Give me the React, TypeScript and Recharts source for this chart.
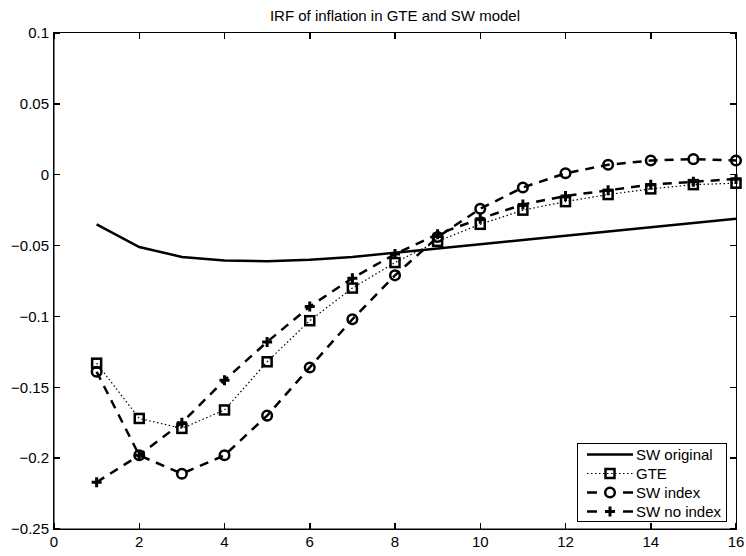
import { Line, LineChart, XAxis, YAxis } from 'recharts';

const periods = [1, 2, 3, 4, 5, 6, 7, 8, 9, 10, 11, 12, 13, 14, 15, 16];
const swOriginal = [-0.035, -0.051, -0.058, -0.0605, -0.061, -0.06, -0.058, -0.055, -0.052, -0.049, -0.046, -0.043, -0.04, -0.037, -0.034, -0.031];
const gte = [-0.133, -0.172, -0.179, -0.166, -0.132, -0.103, -0.08, -0.062, -0.047, -0.035, -0.025, -0.019, -0.014, -0.01, -0.007, -0.006];
const swIndex = [-0.139, -0.198, -0.211, -0.198, -0.17, -0.136, -0.102, -0.071, -0.044, -0.024, -0.009, 0.001, 0.007, 0.01, 0.011, 0.01];
const swNoIndex = [-0.217, -0.198, -0.175, -0.145, -0.118, -0.093, -0.073, -0.056, -0.042, -0.031, -0.021, -0.015, -0.011, -0.007, -0.005, -0.003];

const xTicks = [0, 2, 4, 6, 8, 10, 12, 14, 16];
const yTicks = [-0.25, -0.2, -0.15, -0.1, -0.05, 0, 0.05, 0.1];
const seriesNames = ['SW original', 'GTE', 'SW index', 'SW no index'];

const data = periods.map((t, i) => ({
  t,
  swOriginal: swOriginal[i],
  gte: gte[i],
  swIndex: swIndex[i],
  swNoIndex: swNoIndex[i],
}));

const FONT = '"Liberation Sans", Arial, sans-serif';
const DASH = '9 7';
const tickFont = { fontSize: 15, fill: '#000', fontFamily: FONT };

// plot box (chart margins + axis sizes below)
const BOX = { left: 54, top: 33, width: 682, height: 496 };
const X_DOMAIN = [0, 16];
const Y_DOMAIN = [-0.25, 0.1];

const fmtY = (v: number) => {
  const s = String(Math.abs(v));
  return v < 0 ? '\u2212' + s : s;
};

const square = (cx: number, cy: number, key?: any) => (
  <rect key={key} x={cx - 4.5} y={cy - 4.5} width={9} height={9} fill="none" stroke="#000" strokeWidth={2.5} />
);
const circle = (cx: number, cy: number, key?: any) => (
  <circle key={key} cx={cx} cy={cy} r={4.8} fill="none" stroke="#000" strokeWidth={2.5} />
);
const plus = (cx: number, cy: number, key?: any) => (
  <path key={key} d={`M${cx - 5},${cy}H${cx + 5}M${cx},${cy - 5}V${cy + 5}`} stroke="#000" strokeWidth={3} fill="none" />
);

const renderSquare = (p: any) => square(p.cx, p.cy, `sq-${p.index}`);
const renderCircle = (p: any) => circle(p.cx, p.cy, `ci-${p.index}`);
const renderPlus = (p: any) => plus(p.cx, p.cy, `pl-${p.index}`);

const legendSample = (i: number) => {
  if (i === 0) return <line x1={0} x2={46} y1={9.5} y2={9.5} stroke="#000" strokeWidth={2.5} />;
  if (i === 1)
    return (
      <g>
        <line x1={0} x2={46} y1={9.5} y2={9.5} stroke="#000" strokeWidth={1.2} strokeDasharray="1.5 2.5" />
        {square(23, 9.5)}
      </g>
    );
  return (
    <g>
      <line x1={0} x2={10} y1={9.5} y2={9.5} stroke="#000" strokeWidth={2.5} />
      <line x1={36} x2={46} y1={9.5} y2={9.5} stroke="#000" strokeWidth={2.5} />
      {i === 2 ? circle(23, 9.5) : plus(23, 9.5)}
    </g>
  );
};

// matlab style box with inward ticks on all four sides
const AxesBox = () => {
  const sx = (v: number) => BOX.left + ((v - X_DOMAIN[0]) / (X_DOMAIN[1] - X_DOMAIN[0])) * BOX.width;
  const sy = (v: number) => BOX.top + ((Y_DOMAIN[1] - v) / (Y_DOMAIN[1] - Y_DOMAIN[0])) * BOX.height;
  const right = BOX.left + BOX.width;
  const bottom = BOX.top + BOX.height;
  return (
    <>
      <div
        style={{
          position: 'absolute',
          left: BOX.left - 1,
          top: BOX.top - 1,
          width: BOX.width,
          height: BOX.height,
          border: '1.5px solid #000',
          zIndex: 5,
          pointerEvents: 'none',
        }}
      />
      <svg
        width={746}
        height={556}
        shapeRendering="crispEdges"
        style={{ position: 'absolute', left: 0, top: 0, zIndex: 6, pointerEvents: 'none' }}
      >
        {xTicks.map((v) => (
          <g key={`x${v}`}>
            <line x1={sx(v)} x2={sx(v)} y1={BOX.top} y2={BOX.top + 6} stroke="#000" strokeWidth={1.5} />
            <line x1={sx(v)} x2={sx(v)} y1={bottom} y2={bottom - 6} stroke="#000" strokeWidth={1.5} />
          </g>
        ))}
        {yTicks.map((v) => (
          <g key={`y${v}`}>
            <line x1={BOX.left} x2={BOX.left + 6} y1={sy(v)} y2={sy(v)} stroke="#000" strokeWidth={1.5} />
            <line x1={right} x2={right - 6} y1={sy(v)} y2={sy(v)} stroke="#000" strokeWidth={1.5} />
          </g>
        ))}
      </svg>
    </>
  );
};

export default function App() {
  return (
    <div style={{ position: 'absolute', left: 0, top: 0, width: 746, height: 556, background: '#fff', fontFamily: FONT }}>
      <LineChart width={746} height={556} data={data} margin={{ top: BOX.top, right: 10, bottom: 0, left: 0 }}>
        <XAxis
          dataKey="t"
          type="number"
          domain={X_DOMAIN}
          ticks={xTicks}
          height={27}
          stroke="#000"
          tickLine={false}
          tickSize={3}
          tickMargin={4}
          tick={tickFont}
        />
        <YAxis
          type="number"
          domain={Y_DOMAIN}
          ticks={yTicks}
          width={BOX.left}
          stroke="#000"
          tickLine={false}
          tickSize={3}
          tickMargin={2}
          tick={tickFont}
          tickFormatter={fmtY}
        />
        <Line dataKey="swOriginal" name="SW original" stroke="#000" strokeWidth={2.5} dot={false} isAnimationActive={false} />
        <Line
          dataKey="gte"
          name="GTE"
          stroke="#000"
          strokeWidth={1.2}
          strokeDasharray="1.5 2.5"
          dot={renderSquare}
          isAnimationActive={false}
        />
        <Line
          dataKey="swIndex"
          name="SW index"
          stroke="#000"
          strokeWidth={2.5}
          strokeDasharray={DASH}
          dot={renderCircle}
          isAnimationActive={false}
        />
        <Line
          dataKey="swNoIndex"
          name="SW no index"
          stroke="#000"
          strokeWidth={2.5}
          strokeDasharray={DASH}
          dot={renderPlus}
          isAnimationActive={false}
        />
      </LineChart>
      <AxesBox />
      <div
        style={{
          position: 'absolute',
          left: BOX.left,
          width: BOX.width,
          top: 7,
          textAlign: 'center',
          fontSize: 15,
          lineHeight: '17px',
          color: '#000',
        }}
      >
        IRF of inflation in GTE and SW model
      </div>
      <div
        style={{
          position: 'absolute',
          left: 577,
          top: 443,
          width: 150,
          height: 79,
          border: '1px solid #000',
          background: '#fff',
          paddingTop: 1,
          boxSizing: 'border-box',
          fontSize: 15,
          lineHeight: '19px',
          zIndex: 7,
        }}
      >
        {seriesNames.map((name, i) => (
          <div key={name} style={{ display: 'flex', alignItems: 'center', height: 19 }}>
            <svg width={46} height={19} style={{ marginLeft: 9, marginRight: 3 }}>
              {legendSample(i)}
            </svg>
            <span>{name}</span>
          </div>
        ))}
      </div>
    </div>
  );
}
